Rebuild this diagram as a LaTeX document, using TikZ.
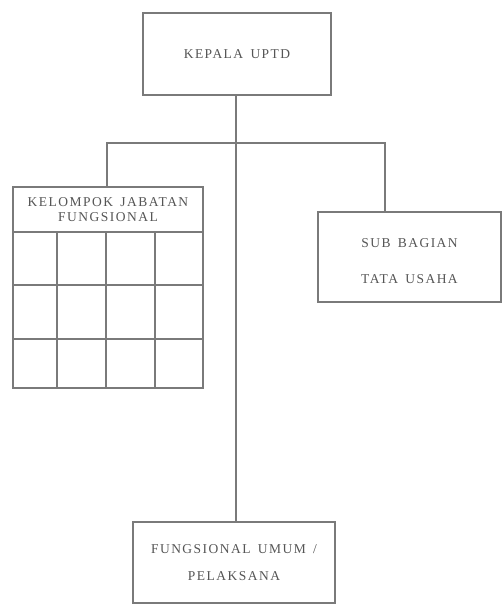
\documentclass[tikz,border=0pt]{standalone}
\usepackage{fontspec}
\setmainfont{Liberation Serif}[LetterSpace=11,WordSpace=1.5]
\definecolor{linegray}{HTML}{7A7A7A}
\definecolor{textgray}{HTML}{555555}
\begin{document}
\begin{tikzpicture}[x=1pt,y=-1pt,
  line/.style={draw=linegray,line width=1.3pt},
  box/.style={line,rectangle,inner sep=0pt,font=\fontsize{13.5}{14}\selectfont,text=textgray,align=center}]
\useasboundingbox (0,0) rectangle (502,605);
\fill[white] (0,0) rectangle (502,605);
% top box
\node[box,minimum width=188pt,minimum height=82pt] (kepala) at (237,54) {KEPALA UPTD};
% kelompok header
\node[box,minimum width=190pt,minimum height=45pt] (kjf) at (108,209.5) {KELOMPOK JABATAN\\[1pt]FUNGSIONAL};
% grid of the kelompok box
\coordinate (g0) at (13,232);
\coordinate (g1) at (203,388);
\draw[line] (g0) rectangle (g1);
\foreach \c in {57,106,155}{
  \draw[line] (\c,232) -- (\c,388);
}
\foreach \r in {285,339}{
  \draw[line] (13,\r) -- (203,\r);
}
% sub bagian
\node[box,minimum width=183pt,minimum height=90pt] (sub) at (409.5,257) {};
\node[font=\fontsize{13.5}{14}\selectfont,text=textgray,align=center] (subt) at (409.5,261) {SUB BAGIAN\\[22pt]TATA USAHA};
% bottom box
\node[box,minimum width=202pt,minimum height=81pt] (fu) at (234,562.5) {FUNGSIONAL UMUM /\\[13pt]PELAKSANA};
% connectors
\coordinate (jl) at (107,143);
\coordinate (jr) at (385,143);
\draw[line] (kepala.south -| 236,0) -- (fu.north -| 236,0);
\draw[line] (jl |- kjf.north) -- (jl) -- (jr) -- (jr |- sub.north);
\end{tikzpicture}
\end{document}
